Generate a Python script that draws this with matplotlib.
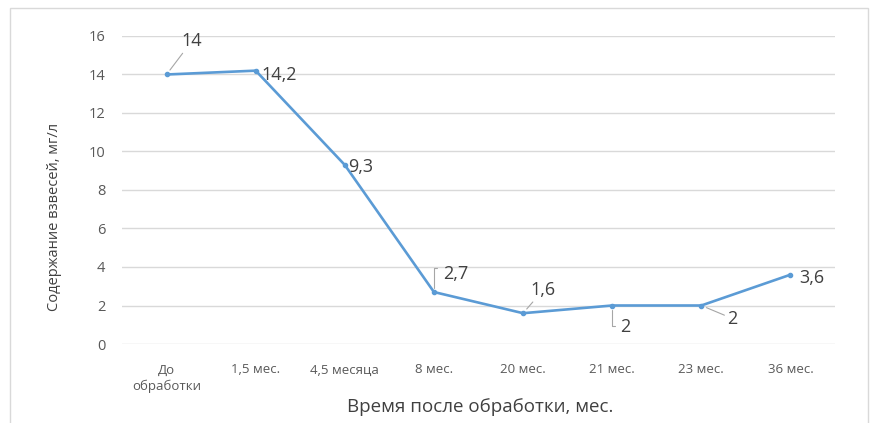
import matplotlib
matplotlib.use("Agg")
import matplotlib.pyplot as plt
from matplotlib.patches import Rectangle

plt.rcParams['font.family'] = ['Open Sans', 'DejaVu Sans']

categories = ["До\nобработки", "1,5 мес.", "4,5 месяца", "8 мес.",
              "20 мес.", "21 мес.", "23 мес.", "36 мес."]
values = [14, 14.2, 9.3, 2.7, 1.6, 2, 2, 3.6]
value_labels = ["14", "14,2", "9,3", "2,7", "1,6", "2", "2", "3,6"]
y_ticks = [0, 2, 4, 6, 8, 10, 12, 14, 16]

# label offsets (in pixels) from each point, and leader style:
# None = no leader, "line" = straight leader, (relx, rely) = elbow leader from that text corner
label_offsets = [(25, 33), (6, -4), (3, -2), (9, 18), (20, 23), (13, -21), (31, -13), (9, -3)]
leaders = ["line", None, None, (0.0, 0.85), "line", (0.0, 0.55), "line", None]
label_ha = ["center", "left", "left", "left", "center", "center", "center", "left"]

fig = plt.figure(figsize=(8.71, 4.23), dpi=100)
fig.patches.append(Rectangle((10 / 871, -0.01), 858 / 871, 1 - 8 / 423 + 0.01,
                             transform=fig.transFigure, fill=False,
                             edgecolor="#d9d9d9", linewidth=1.0))

ax = fig.add_axes([122 / 871, 1 - 344 / 423, (835 - 122) / 871, (344 - 36) / 423])
x = list(range(len(categories)))
line_color = "#5b9bd5"
ax.plot(x, values, color=line_color, linewidth=1.9, marker="o", markersize=3,
        zorder=3)

ax.set_xlim(-0.5, len(categories) - 0.5)
ax.set_ylim(0, 16)
ax.set_yticks(y_ticks)
ax.set_xticks(x)
ax.set_xticklabels(categories, fontsize=9.5, color="#595959")
ax.tick_params(axis="y", labelsize=10.5, colors="#595959", length=0, pad=12)
ax.tick_params(axis="x", length=0, pad=14)
for lbl in ax.get_xticklabels():
    lbl.set_linespacing(1.35)
ax.yaxis.grid(True, color="#d9d9d9", linewidth=1.0)
ax.set_axisbelow(True)
for s in ax.spines.values():
    s.set_visible(False)

for xi, v, txt, off, lead, ha in zip(x, values, value_labels, label_offsets, leaders, label_ha):
    props = None
    if lead == "line":
        props = dict(arrowstyle="-", color="#a6a6a6", linewidth=0.8,
                     shrinkA=0, shrinkB=4)
    elif lead is not None:
        props = dict(arrowstyle="-", color="#a6a6a6", linewidth=0.8,
                     shrinkA=2, shrinkB=3, relpos=lead,
                     connectionstyle="angle,angleA=0,angleB=90,rad=0")
    ax.annotate(txt, (xi, v), xytext=(off[0] * 0.72, off[1] * 0.72),
                textcoords="offset points", fontsize=13, color="#404040",
                ha=ha, va="center", arrowprops=props, zorder=4)

fig.text(55 / 871, 1 - 217 / 423, "Содержание взвесей, мг/л", rotation=90,
         fontsize=10.5, color="#404040", ha="center", va="center")
fig.text(480 / 871, 1 - 407 / 423, "Время после обработки, мес.",
         fontsize=13.5, color="#404040", ha="center", va="center")

fig.savefig("out.png", dpi=100)
